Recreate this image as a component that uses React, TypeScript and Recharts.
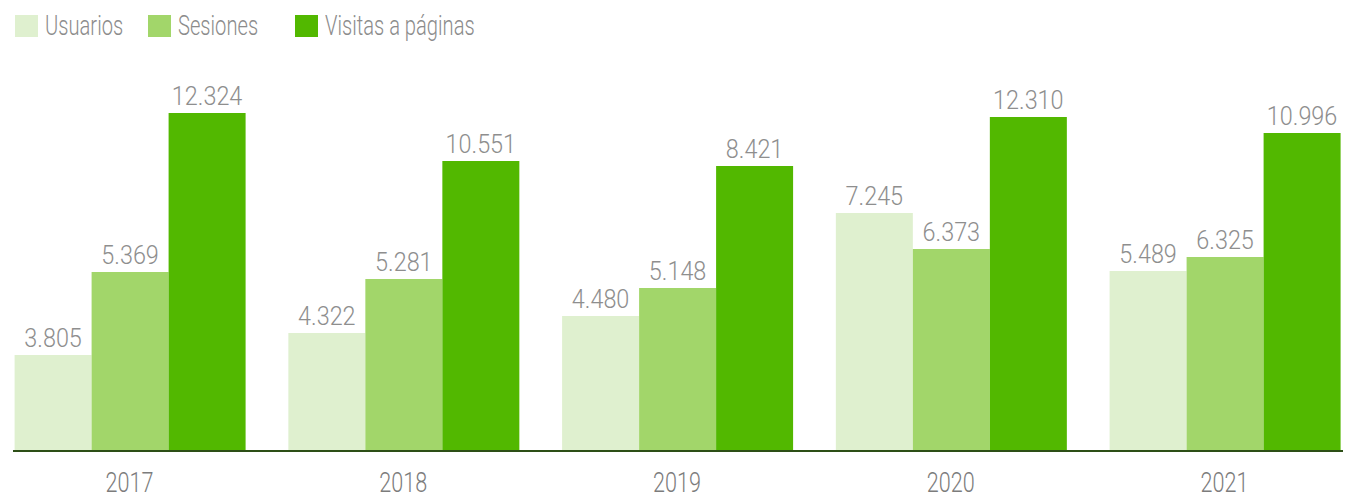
import { Bar, BarChart, LabelList, XAxis, YAxis } from 'recharts'

// años
const years = ['2017', '2018', '2019', '2020', '2021']

// cifras que se rotulan sobre cada barra
const usuarios = [3805, 4322, 4480, 7245, 5489]
const sesiones = [5369, 5281, 5148, 6373, 6325]
const visitas = [12324, 10551, 8421, 12310, 10996]

// alturas de las barras tal como aparecen en el gráfico original (no son proporcionales a las cifras)
const usuariosAltura = [96, 118, 135, 238, 180]
const sesionesAltura = [179, 172, 163, 202, 194]
const visitasAltura = [338, 290, 285, 334, 318]

const FONT = "Roboto, 'DejaVu Sans Condensed', sans-serif"
const COLORS = { u: '#dff0cf', s: '#a2d66a', v: '#52b800' }
const LEGEND_LEFT = [15, 148, 295]

// la fuente original es condensada: se estrecha el texto horizontalmente
const narrow = (k: number) =>
  ({
    transformBox: 'fill-box',
    transformOrigin: 'center',
    transform: `scaleX(${k})`,
  }) as const

const fmt = (n: number) => {
  const s = String(n)
  return s.length > 3 ? `${s.slice(0, -3)}.${s.slice(-3)}` : s
}

const data = years.map((year, i) => ({
  year,
  u: usuariosAltura[i],
  s: sesionesAltura[i],
  v: visitasAltura[i],
  uLabel: fmt(usuarios[i]),
  sLabel: fmt(sesiones[i]),
  vLabel: fmt(visitas[i]),
}))

const series = [
  { key: 'u', name: 'Usuarios', color: COLORS.u },
  { key: 's', name: 'Sesiones', color: COLORS.s },
  { key: 'v', name: 'Visitas a páginas', color: COLORS.v },
]

export default function App() {
  return (
    <div style={{ position: 'relative', width: 1351, height: 499, marginLeft: -8, marginTop: -8, fontFamily: FONT }}>
      {series.map((s, i) => (
        <div
          key={s.key}
          style={{ position: 'absolute', top: 15, left: LEGEND_LEFT[i], display: 'flex', alignItems: 'center', height: 22 }}
        >
          <span style={{ width: 23, height: 22, background: s.color, display: 'inline-block', marginRight: 7 }} />
          <span
            style={{
              fontSize: 28,
              fontWeight: 300,
              color: '#8c8c8c',
              lineHeight: '22px',
              display: 'inline-block',
              transform: 'scaleX(0.72)',
              transformOrigin: 'left center',
              whiteSpace: 'nowrap',
            }}
          >
            {s.name}
          </span>
        </div>
      ))}
      <BarChart
        width={1351}
        height={499}
        data={data}
        margin={{ top: 113, right: 0, left: 13, bottom: 0 }}
        barCategoryGap={22}
        barGap={0}
      >
        <XAxis
          dataKey="year"
          height={48}
          padding={{ left: -20.4, right: -10.35 }}
          axisLine={{ stroke: '#2d4f17', strokeWidth: 2 }}
          tickLine={false}
          tickSize={0}
          tickMargin={22}
          tick={{ fontSize: 27, fontWeight: 300, fill: '#7c7c7c', fontFamily: FONT, style: narrow(0.8) }}
        />
        <YAxis hide domain={[0, 338]} />
        {series.map((s) => (
          <Bar key={s.key} dataKey={s.key} name={s.name} fill={s.color} isAnimationActive={false}>
            <LabelList
              dataKey={`${s.key}Label`}
              position="top"
              offset={8}
              style={{ fontSize: 26, fontWeight: 300, fill: '#8e8e8e', fontFamily: FONT, ...narrow(0.9) }}
            />
          </Bar>
        ))}
      </BarChart>
    </div>
  )
}
